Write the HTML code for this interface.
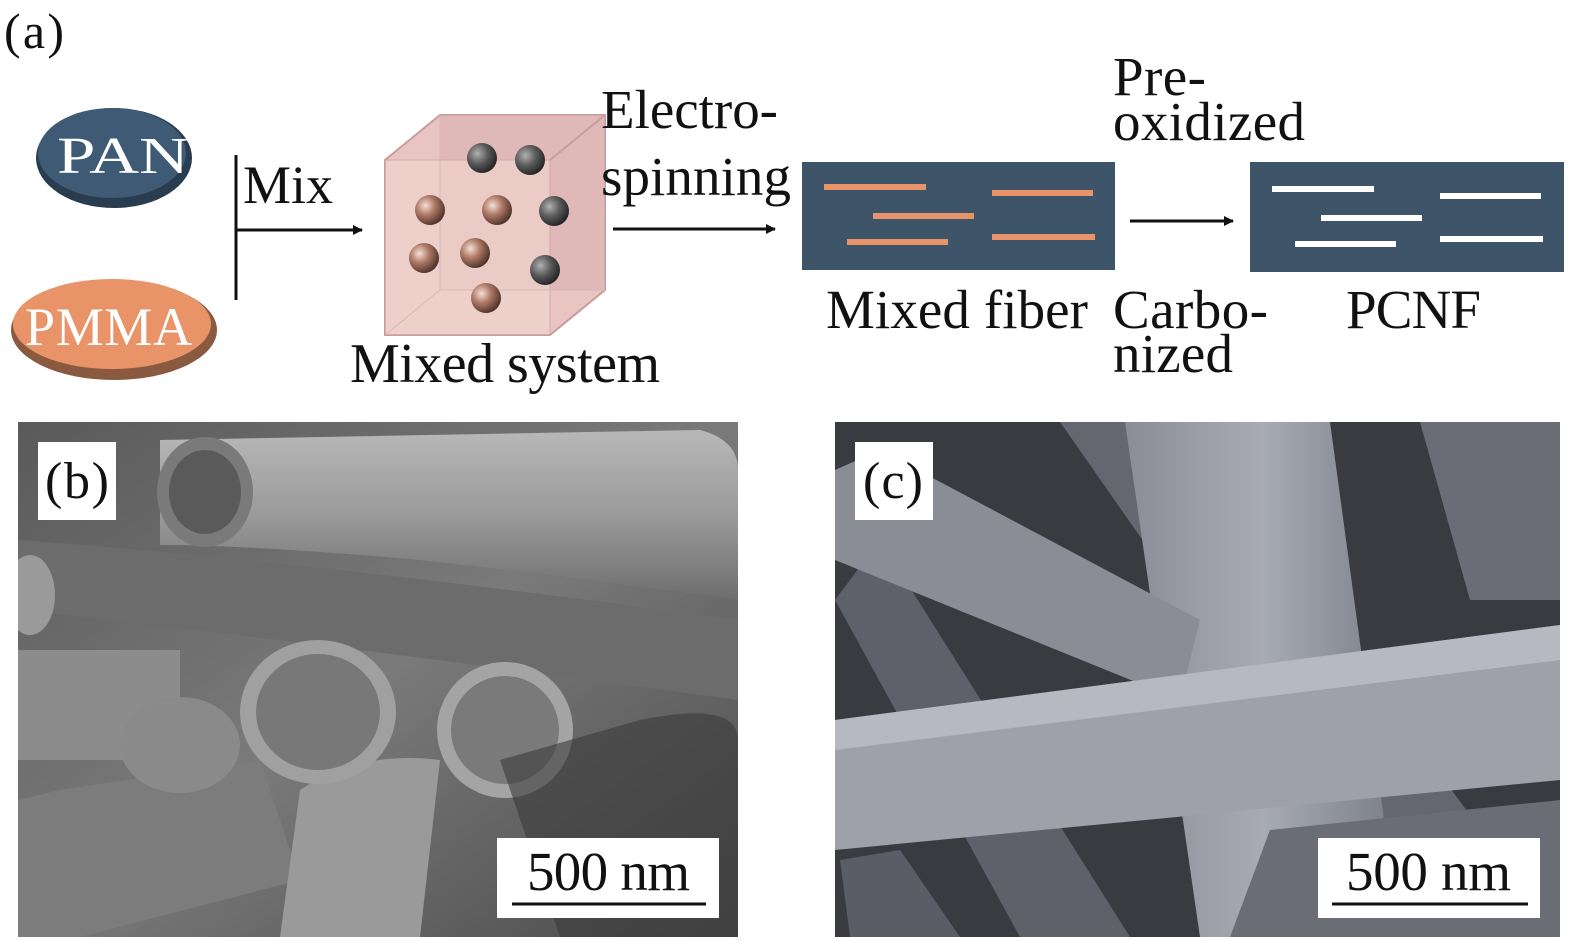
<!DOCTYPE html>
<html><head><meta charset="utf-8"><style>
html,body{margin:0;padding:0;background:#fff;}
svg{display:block;}
text{font-family:"Liberation Serif",serif;fill:#111;}
</style></head><body>
<svg width="1575" height="941" viewBox="0 0 1575 941" xmlns="http://www.w3.org/2000/svg">
<defs>
<marker id="ah" markerWidth="10" markerHeight="10" refX="9" refY="5" orient="auto" markerUnits="userSpaceOnUse"><path d="M0,0 L20,5 L0,10 Z" transform="scale(0.5,1)" fill="#111"/></marker>
<radialGradient id="ball" cx="0.35" cy="0.35" r="0.7"><stop offset="0" stop-color="#f4e0d8"/><stop offset="0.45" stop-color="#b07a66"/><stop offset="1" stop-color="#4a3028"/></radialGradient>
<radialGradient id="dball" cx="0.35" cy="0.35" r="0.7"><stop offset="0" stop-color="#b0b0b0"/><stop offset="0.5" stop-color="#5a5a5a"/><stop offset="1" stop-color="#222"/></radialGradient>
<linearGradient id="bg_b" x1="0" y1="0" x2="1" y2="1"><stop offset="0" stop-color="#5a5a5a"/><stop offset="0.5" stop-color="#7a7a7a"/><stop offset="1" stop-color="#4a4a4a"/></linearGradient>
<linearGradient id="fib" x1="0" y1="0" x2="0" y2="1"><stop offset="0" stop-color="#b8b8b8"/><stop offset="0.5" stop-color="#9a9a9a"/><stop offset="1" stop-color="#6e6e6e"/></linearGradient>
<linearGradient id="fibc" x1="0" y1="0" x2="1" y2="0"><stop offset="0" stop-color="#8a8d96"/><stop offset="0.5" stop-color="#a8abb4"/><stop offset="1" stop-color="#7a7d86"/></linearGradient>
</defs>

<text x="4" y="48" font-size="50" textLength="60">(a)</text>

<ellipse cx="114" cy="158" rx="78" ry="50" fill="#2a3c50"/>
<ellipse cx="112" cy="153" rx="74" ry="45" fill="#3f5a74"/>
<text x="57" y="173" font-size="52" textLength="132" lengthAdjust="spacingAndGlyphs" style="fill:#fff">PAN</text>
<ellipse cx="114" cy="330" rx="103" ry="50" fill="#8a5a40"/>
<ellipse cx="112" cy="324" rx="99" ry="45" fill="#e89468"/>
<text x="25" y="345" font-size="54" textLength="167" style="fill:#fff">PMMA</text>

<line x1="236" y1="155" x2="236" y2="300" stroke="#111" stroke-width="3"/>
<line x1="236" y1="230" x2="362" y2="230" stroke="#111" stroke-width="3" marker-end="url(#ah)"/>
<text x="243" y="203" font-size="54" textLength="90">Mix</text>

<polygon points="385,160 440,115 605,115 605,290 550,335 385,335" fill="#e8c4c2" stroke="#c89c9c" stroke-width="2"/>
<polygon points="440,115 605,115 605,290 440,290" fill="#dcb0b0" opacity="0.6"/>
<polygon points="385,160 550,160 550,335 385,335" fill="#f2d8d0" opacity="0.6" stroke="#c89c9c"/>
<line x1="550" y1="160" x2="605" y2="115" stroke="#c89c9c" stroke-width="2"/>
<line x1="440" y1="115" x2="440" y2="290" stroke="#d8b8b8"/>
<line x1="440" y1="290" x2="605" y2="290" stroke="#d8b8b8"/>
<line x1="440" y1="290" x2="385" y2="335" stroke="#d8b8b8"/>
<circle cx="482" cy="158" r="15" fill="url(#dball)"/>
<circle cx="530" cy="160" r="15" fill="url(#dball)"/>
<circle cx="430" cy="210" r="15" fill="url(#ball)"/>
<circle cx="497" cy="210" r="15" fill="url(#ball)"/>
<circle cx="554" cy="211" r="15" fill="url(#dball)"/>
<circle cx="424" cy="258" r="15" fill="url(#ball)"/>
<circle cx="475" cy="253" r="15" fill="url(#ball)"/>
<circle cx="545" cy="270" r="15" fill="url(#dball)"/>
<circle cx="486" cy="298" r="15" fill="url(#ball)"/>
<text x="350" y="382" font-size="56" textLength="310">Mixed system</text>

<text x="601" y="128" font-size="55" textLength="177">Electro-</text>
<text x="601" y="195" font-size="55" textLength="190">spinning</text>
<line x1="613" y1="229" x2="775" y2="229" stroke="#111" stroke-width="3" marker-end="url(#ah)"/>

<rect x="802" y="162" width="313" height="108" fill="#3d5469"/>
<g stroke="#e89468" stroke-width="6">
<line x1="824" y1="187" x2="926" y2="187"/>
<line x1="992" y1="193" x2="1093" y2="193"/>
<line x1="873" y1="216" x2="974" y2="216"/>
<line x1="847" y1="242" x2="948" y2="242"/>
<line x1="992" y1="237" x2="1095" y2="237"/>
</g>
<text x="826" y="328" font-size="55" textLength="262">Mixed fiber</text>

<text x="1113" y="95" font-size="55" textLength="93">Pre-</text>
<text x="1113" y="140" font-size="55" textLength="192">oxidized</text>
<line x1="1130" y1="221" x2="1233" y2="221" stroke="#111" stroke-width="3" marker-end="url(#ah)"/>
<text x="1113" y="328" font-size="55" textLength="155">Carbo-</text>
<text x="1113" y="372" font-size="55" textLength="120">nized</text>

<rect x="1250" y="162" width="314" height="110" fill="#3d5469"/>
<g stroke="#fff" stroke-width="6">
<line x1="1272" y1="189" x2="1374" y2="189"/>
<line x1="1440" y1="196" x2="1541" y2="196"/>
<line x1="1321" y1="218" x2="1422" y2="218"/>
<line x1="1295" y1="244" x2="1396" y2="244"/>
<line x1="1440" y1="239" x2="1543" y2="239"/>
</g>
<text x="1346" y="328" font-size="55" textLength="135">PCNF</text>

<clipPath id="cb"><rect x="18" y="422" width="720" height="515"/></clipPath>
<g clip-path="url(#cb)">
<rect x="18" y="422" width="720" height="515" fill="url(#bg_b)"/>
<path d="M18,540 Q300,560 738,620 L738,700 Q300,640 18,610 Z" fill="#6c6c6c"/>
<path d="M160,440 L700,430 Q738,440 738,470 L738,600 Q600,580 420,560 Q250,545 160,545 Z" fill="url(#fib)"/>
<ellipse cx="205" cy="492" rx="48" ry="55" fill="#7a7a7a"/>
<ellipse cx="205" cy="492" rx="36" ry="42" fill="#5a5a5a"/>
<path d="M18,650 L180,650 L180,760 L18,760 Z" fill="#8c8c8c"/>
<path d="M60,790 L260,760 L300,880 L80,937 L18,937 L18,800 Z" fill="#7c7c7c"/>
<path d="M280,937 L300,790 Q360,750 440,760 L420,937 Z" fill="#9a9a9a"/>
<ellipse cx="180" cy="745" rx="60" ry="48" fill="#8a8a8a"/>
<ellipse cx="318" cy="712" rx="78" ry="72" fill="#a0a0a0"/>
<ellipse cx="318" cy="712" rx="62" ry="58" fill="#787878"/>
<ellipse cx="505" cy="730" rx="68" ry="68" fill="#a4a4a4"/>
<ellipse cx="505" cy="730" rx="54" ry="54" fill="#7a7a7a"/>
<path d="M500,760 L640,720 Q738,700 738,740 L738,937 L560,937 Z" fill="#3a3a3a" opacity="0.6"/>
<ellipse cx="30" cy="595" rx="25" ry="40" fill="#9a9a9a"/>
</g>
<rect x="38" y="442" width="78" height="78" fill="#fff"/>
<text x="45" y="498" font-size="52" textLength="64">(b)</text>
<rect x="497" y="838" width="222" height="80" fill="#fff"/>
<text x="527" y="890" font-size="55" textLength="163">500 nm</text>
<line x1="512" y1="904" x2="706" y2="904" stroke="#111" stroke-width="3"/>

<clipPath id="cc"><rect x="835" y="422" width="725" height="515"/></clipPath>
<g clip-path="url(#cc)">
<rect x="835" y="422" width="725" height="515" fill="#3a3b41"/>
<polygon points="1060,422 1180,422 1560,937 1420,937" fill="#64676f"/>
<polygon points="1125,422 1330,422 1400,937 1200,937" fill="url(#fibc)"/>
<polygon points="1420,422 1560,422 1560,600 1470,600" fill="#6a6d76"/>
<polygon points="835,600 880,540 1130,937 1020,937" fill="#5e616a"/>
<polygon points="835,470 880,450 1200,620 1180,700 835,560" fill="#8a8d96"/>
<polygon points="835,720 1560,625 1560,780 835,850" fill="#9ea1aa"/>
<polygon points="835,720 1560,625 1560,660 835,750" fill="#b6b9c2"/>
<polygon points="1230,937 1270,830 1560,800 1560,937" fill="#6a6d76"/>
<polygon points="840,860 900,850 960,937 850,937" fill="#5a5d66"/>
</g>
<rect x="855" y="442" width="78" height="78" fill="#fff"/>
<text x="863" y="498" font-size="52" textLength="60">(c)</text>
<rect x="1318" y="838" width="222" height="80" fill="#fff"/>
<text x="1346" y="890" font-size="55" textLength="165">500 nm</text>
<line x1="1332" y1="904" x2="1528" y2="904" stroke="#111" stroke-width="3"/>
</svg>
</body></html>
